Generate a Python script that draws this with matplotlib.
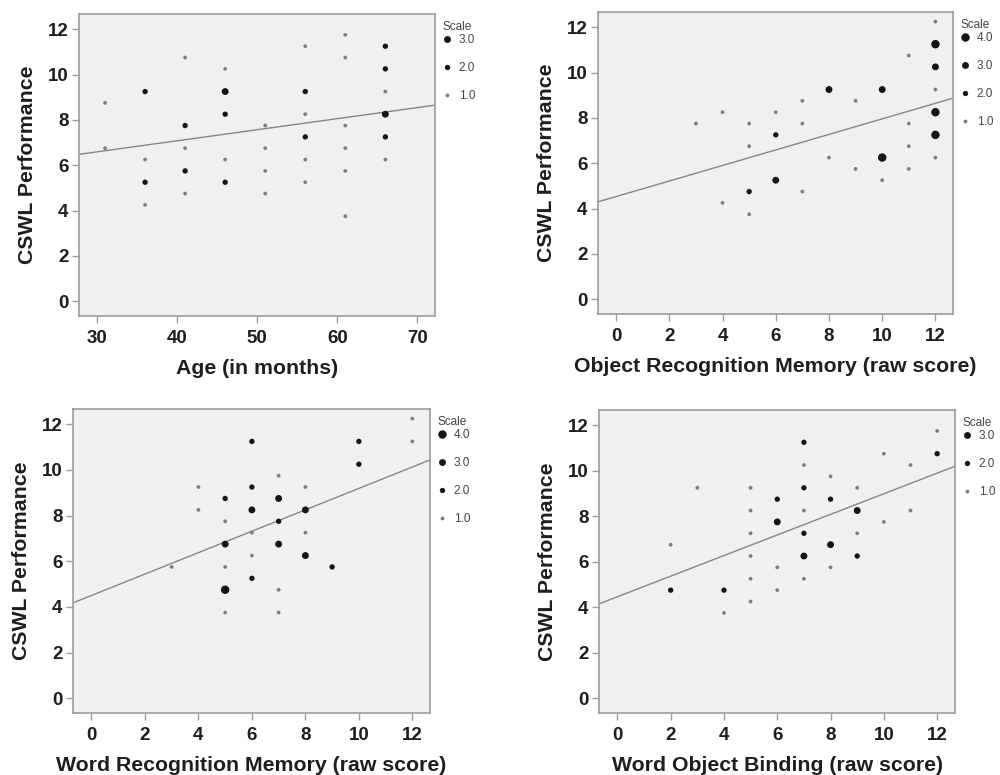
import numpy as np
import matplotlib
matplotlib.use("Agg")
import matplotlib.pyplot as plt
from matplotlib.lines import Line2D

plt.rcParams['font.family'] = ['Liberation Sans', 'DejaVu Sans']

# panel 1: age
age_x = [31, 31, 36, 36, 36, 36, 41, 41, 41, 41, 41, 46, 46, 46, 46, 46,
         51, 51, 51, 51, 56, 56, 56, 56, 56, 56, 61, 61, 61, 61, 61, 61,
         66, 66, 66, 66, 66, 66]
age_y = [8.75, 6.75, 9.25, 6.25, 5.25, 4.25, 10.75, 7.75, 6.75, 5.75, 4.75,
         10.25, 9.25, 8.25, 6.25, 5.25, 7.75, 6.75, 5.75, 4.75,
         11.25, 9.25, 8.25, 7.25, 6.25, 5.25, 11.75, 10.75, 7.75, 6.75, 5.75, 3.75,
         11.25, 10.25, 9.25, 8.25, 7.25, 6.25]
age_n = [1, 1, 2, 1, 2, 1, 1, 2, 1, 2, 1, 1, 3, 2, 1, 2, 1, 1, 1, 1,
         1, 2, 1, 2, 1, 1, 1, 1, 1, 1, 1, 1, 2, 2, 1, 3, 2, 1]

# panel 2: object recognition memory
orm_x = [3, 4, 4, 5, 5, 5, 5, 6, 6, 6, 7, 7, 7, 8, 8, 9, 9, 10, 10, 10,
         11, 11, 11, 11, 12, 12, 12, 12, 12, 12, 12]
orm_y = [7.75, 8.25, 4.25, 7.75, 6.75, 4.75, 3.75, 8.25, 7.25, 5.25,
         8.75, 7.75, 4.75, 9.25, 6.25, 8.75, 5.75, 9.25, 6.25, 5.25,
         10.75, 7.75, 6.75, 5.75, 12.25, 11.25, 10.25, 9.25, 8.25, 7.25, 6.25]
orm_n = [1, 1, 1, 1, 1, 2, 1, 1, 2, 3, 1, 1, 1, 3, 1, 1, 1, 3, 4, 1,
         1, 1, 1, 1, 1, 4, 3, 1, 4, 4, 1]

# panel 3: word recognition memory
wrm_x = [3, 4, 4, 5, 5, 5, 5, 5, 5, 6, 6, 6, 6, 6, 6, 7, 7, 7, 7, 7, 7,
         8, 8, 8, 8, 9, 10, 10, 12, 12]
wrm_y = [5.75, 9.25, 8.25, 8.75, 7.75, 6.75, 5.75, 4.75, 3.75,
         11.25, 9.25, 8.25, 7.25, 6.25, 5.25, 9.75, 8.75, 7.75, 6.75, 4.75, 3.75,
         9.25, 8.25, 7.25, 6.25, 5.75, 11.25, 10.25, 12.25, 11.25]
wrm_n = [1, 1, 1, 2, 1, 3, 1, 4, 1, 2, 2, 3, 1, 1, 2, 1, 3, 2, 3, 1, 1,
         1, 3, 1, 3, 2, 2, 2, 1, 1]

# panel 4: word object binding
wob_x = [2, 2, 3, 4, 4, 5, 5, 5, 5, 5, 5, 6, 6, 6, 6,
         7, 7, 7, 7, 7, 7, 7, 8, 8, 8, 8, 9, 9, 9, 9, 10, 10, 11, 11, 12, 12]
wob_y = [6.75, 4.75, 9.25, 4.75, 3.75, 9.25, 8.25, 7.25, 6.25, 5.25, 4.25,
         8.75, 7.75, 5.75, 4.75, 11.25, 10.25, 9.25, 8.25, 7.25, 6.25, 5.25,
         9.75, 8.75, 6.75, 5.75, 9.25, 8.25, 7.25, 6.25, 10.75, 7.75,
         10.25, 8.25, 11.75, 10.75]
wob_n = [1, 2, 1, 2, 1, 1, 1, 1, 1, 1, 1, 2, 3, 1, 1, 2, 1, 2, 1, 2, 3, 1,
         1, 2, 3, 1, 1, 3, 1, 2, 1, 1, 1, 1, 1, 2]

# fit lines (intercept, slope)
fit_icpt = [5.126, 4.53, 4.50, 4.46]
fit_slope = [0.0488, 0.3427, 0.469, 0.4528]

xlabels = ['Age (in months)', 'Object Recognition Memory (raw score)',
           'Word Recognition Memory (raw score)', 'Word Object Binding (raw score)']
raw_ticks = list(range(0, 13, 2))
xticks_all = [[30, 40, 50, 60, 70], raw_ticks, raw_ticks, raw_ticks]
xlims = [(27.75, 72.2), (-0.68, 12.66), (-0.69, 12.66), (-0.69, 12.67)]
data = [(age_x, age_y, age_n), (orm_x, orm_y, orm_n),
        (wrm_x, wrm_y, wrm_n), (wob_x, wob_y, wob_n)]

# axes boxes in pixels: left, top, right, bottom
boxes = [(79, 14, 435, 316), (598, 12, 953, 314), (73, 409, 430, 713), (599, 410, 955, 713)]

W, H = 1000, 775
fig = plt.figure(figsize=(10, 7.75), dpi=100)

spine_c = '#9c9c9c'
bg = '#f0f0f0'


def diam(n):
    return 3.8 + 1.55 * (n - 1)  # px


def color_for(n):
    return '#7e7e7e' if n == 1 else '#151515'


for i, ((x, y, n), (l, t, r, b)) in enumerate(zip(data, boxes)):
    ax = fig.add_axes([l / W, 1 - b / H, (r - l) / W, (b - t) / H])
    ax.set_facecolor(bg)
    x = np.array(x, float)
    y = np.array(y, float)
    n = np.array(n)

    xs = np.array(xlims[i])
    ax.plot(xs, fit_icpt[i] + fit_slope[i] * xs, color='#858585', lw=1.0, zorder=2)

    ax.scatter(x, y, s=[(diam(k) * 0.72) ** 2 for k in n],
               c=[color_for(k) for k in n], linewidths=0, zorder=3)

    ax.set_xlim(xlims[i])
    ax.set_ylim(-0.65, 12.67)
    ax.set_xticks(xticks_all[i])
    ax.set_yticks(range(0, 13, 2))
    for s in ax.spines.values():
        s.set_color(spine_c)
        s.set_linewidth(1.2)
    ax.tick_params(direction='out', length=5, width=1, color=spine_c, labelsize=13.5)
    ax.tick_params(axis='x', pad=5)
    ax.tick_params(axis='y', pad=2.5)
    for lab in ax.get_xticklabels() + ax.get_yticklabels():
        lab.set_fontweight('bold')
        lab.set_color('#1e1e1e')
    ax.set_xlabel(xlabels[i], fontsize=15.3, fontweight='bold', color='#1e1e1e', labelpad=9)
    ax.set_ylabel('CSWL Performance', fontsize=15.3, fontweight='bold', color='#1e1e1e', labelpad=8)

    levels = sorted(set(n.tolist()), reverse=True)
    handles = [Line2D([], [], ls='none', marker='o', markersize=diam(k) * 0.72,
                      markerfacecolor=color_for(k), markeredgewidth=0)
               for k in levels]
    leg = ax.legend(handles, [f'{k:.1f}' for k in levels], title='Scale',
                    loc='upper left', bbox_to_anchor=(1.0, 1.0), frameon=False,
                    fontsize=8.5, title_fontsize=8.5, labelspacing=1.35,
                    handlelength=0.8, handletextpad=0.6, borderaxespad=0.2,
                    borderpad=0.4)
    leg._legend_box.align = 'left'
    leg._legend_box.sep = 1
    for txt in leg.get_texts():
        txt.set_color('#444444')
    leg.get_title().set_color('#444444')

fig.savefig('out.png', dpi=100)
